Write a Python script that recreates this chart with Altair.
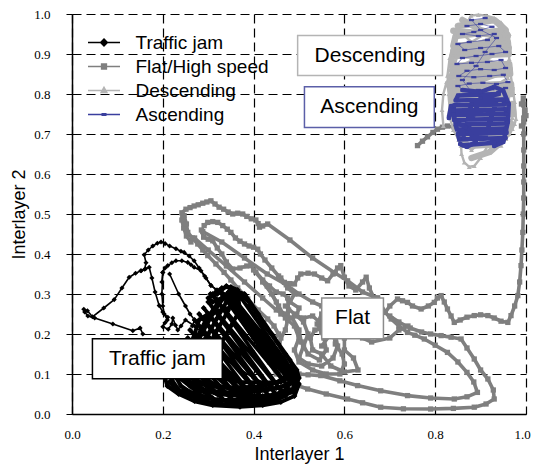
import altair as alt
import pandas as pd

# ---------------- data ----------------
SERIES = ["Traffic jam", "Flat/High speed", "Descending", "Ascending"]
COLORS = ["#000000", "#7f7f7f", "#b4b4b4", "#3a3f9e"]

# Traffic jam: thin arches / excursions
TJ_ARCHES = [
    [(0.156, 0.20), (0.150, 0.215), (0.134, 0.208), (0.09, 0.225), (0.05, 0.24), (0.035, 0.245),
     (0.028, 0.255), (0.026, 0.262), (0.034, 0.258), (0.045, 0.243), (0.07, 0.265), (0.093, 0.286),
     (0.11, 0.315), (0.126, 0.342), (0.14, 0.352), (0.152, 0.358), (0.160, 0.362), (0.163, 0.378),
     (0.159, 0.398), (0.168, 0.41), (0.178, 0.42), (0.188, 0.427), (0.196, 0.43), (0.205, 0.426),
     (0.215, 0.42), (0.229, 0.413), (0.24, 0.407), (0.247, 0.404), (0.258, 0.395), (0.269, 0.383),
     (0.28, 0.365), (0.292, 0.345), (0.306, 0.322), (0.318, 0.31), (0.33, 0.303)],
    [(0.152, 0.358), (0.162, 0.363), (0.17, 0.367), (0.176, 0.34), (0.183, 0.305), (0.192, 0.271),
     (0.2, 0.255), (0.211, 0.242), (0.205, 0.228), (0.2, 0.218), (0.212, 0.212), (0.22, 0.225),
     (0.222, 0.24), (0.228, 0.222), (0.233, 0.21), (0.24, 0.22), (0.25, 0.235), (0.27, 0.22),
     (0.29, 0.2), (0.32, 0.16), (0.36, 0.12), (0.4, 0.09), (0.44, 0.07)],
    [(0.198, 0.33), (0.2, 0.354), (0.205, 0.365), (0.211, 0.371), (0.22, 0.378), (0.229, 0.383),
     (0.242, 0.383), (0.255, 0.379), (0.262, 0.373), (0.269, 0.367), (0.284, 0.358), (0.295, 0.34),
     (0.306, 0.321), (0.32, 0.31), (0.34, 0.3), (0.36, 0.3), (0.39, 0.27), (0.42, 0.22),
     (0.45, 0.18), (0.48, 0.12)],
    [(0.2, 0.354), (0.198, 0.3), (0.2, 0.27), (0.203, 0.25), (0.21, 0.235)],
    [(0.215, 0.35), (0.235, 0.3), (0.25, 0.27), (0.26, 0.25), (0.27, 0.235), (0.265, 0.22)],
]

# Traffic jam: dense loops along the bottom
TJ_BLOB = [
    [(0.33, 0.303), (0.36, 0.27), (0.40, 0.215), (0.44, 0.155), (0.47, 0.11), (0.49, 0.08),
     (0.485, 0.055), (0.455, 0.04), (0.40, 0.03), (0.35, 0.03), (0.30, 0.04), (0.26, 0.055),
     (0.24, 0.07), (0.23, 0.09), (0.245, 0.12), (0.27, 0.165), (0.29, 0.21), (0.31, 0.25),
     (0.33, 0.285), (0.345, 0.305), (0.375, 0.26), (0.41, 0.21), (0.45, 0.15), (0.48, 0.105),
     (0.5, 0.075), (0.49, 0.045), (0.46, 0.03), (0.42, 0.022), (0.37, 0.018), (0.31, 0.022),
     (0.27, 0.032), (0.235, 0.05), (0.21, 0.07), (0.205, 0.09), (0.22, 0.105), (0.25, 0.14),
     (0.275, 0.19), (0.295, 0.235), (0.32, 0.275), (0.35, 0.31), (0.38, 0.3), (0.41, 0.25),
     (0.44, 0.2), (0.47, 0.15), (0.495, 0.11), (0.5, 0.09), (0.49, 0.065), (0.46, 0.05),
     (0.42, 0.045), (0.37, 0.045), (0.32, 0.05), (0.28, 0.065), (0.255, 0.085), (0.25, 0.11),
     (0.27, 0.15), (0.3, 0.2), (0.32, 0.24), (0.34, 0.28), (0.36, 0.31), (0.39, 0.28),
     (0.42, 0.23), (0.455, 0.175), (0.48, 0.135), (0.495, 0.1), (0.48, 0.075), (0.45, 0.065),
     (0.40, 0.06), (0.35, 0.062), (0.31, 0.075), (0.285, 0.095), (0.28, 0.125), (0.3, 0.17),
     (0.32, 0.21), (0.34, 0.25), (0.355, 0.28), (0.37, 0.24), (0.40, 0.19), (0.43, 0.145),
     (0.46, 0.11), (0.475, 0.09), (0.46, 0.08), (0.42, 0.078), (0.37, 0.08), (0.33, 0.09),
     (0.31, 0.11), (0.31, 0.14), (0.33, 0.18), (0.35, 0.22), (0.37, 0.26), (0.365, 0.3),
     (0.34, 0.32), (0.32, 0.3), (0.30, 0.29), (0.31, 0.28), (0.33, 0.29), (0.35, 0.3),
     (0.37, 0.29), (0.36, 0.27), (0.33, 0.26), (0.30, 0.25), (0.28, 0.235), (0.27, 0.2),
     (0.26, 0.17), (0.24, 0.13), (0.225, 0.105), (0.22, 0.085), (0.235, 0.06), (0.27, 0.045),
     (0.32, 0.035), (0.38, 0.035), (0.43, 0.04), (0.47, 0.06), (0.48, 0.085), (0.46, 0.12),
     (0.43, 0.16), (0.4, 0.2), (0.37, 0.25), (0.35, 0.28)],
    [(0.215, 0.08), (0.23, 0.06), (0.26, 0.045), (0.3, 0.03), (0.35, 0.022), (0.4, 0.024),
     (0.44, 0.03), (0.47, 0.045), (0.48, 0.06), (0.47, 0.07), (0.43, 0.06), (0.38, 0.052),
     (0.33, 0.055), (0.29, 0.06), (0.26, 0.07), (0.245, 0.09), (0.25, 0.1), (0.27, 0.085),
     (0.31, 0.068), (0.36, 0.066), (0.41, 0.068), (0.45, 0.078), (0.47, 0.095)],
]

# Traffic jam: diagonal streaks through the dense blob
TJ_STREAKS = [
    [(0.36, 0.31), (0.49, 0.1), (0.345, 0.305), (0.485, 0.085), (0.33, 0.3), (0.475, 0.07),
     (0.315, 0.29), (0.46, 0.06), (0.3, 0.28), (0.445, 0.055), (0.29, 0.265), (0.43, 0.05),
     (0.28, 0.25), (0.415, 0.045), (0.27, 0.235), (0.4, 0.04), (0.26, 0.21), (0.385, 0.04),
     (0.255, 0.19), (0.37, 0.038), (0.25, 0.165), (0.35, 0.04), (0.24, 0.14), (0.33, 0.04),
     (0.235, 0.12), (0.31, 0.04), (0.225, 0.1), (0.29, 0.042)],
    [(0.31, 0.3), (0.33, 0.315), (0.35, 0.318), (0.365, 0.31), (0.37, 0.295), (0.355, 0.285),
     (0.335, 0.29), (0.32, 0.285), (0.305, 0.3)],
]

FLAT = [
    [(0.761, 0.671), (0.772, 0.682), (0.783, 0.693), (0.795, 0.704), (0.805, 0.712), (0.816, 0.717),
     (0.827, 0.72), (0.842, 0.717), (0.855, 0.72)],
    [(0.262, 0.43), (0.252, 0.445), (0.246, 0.465), (0.242, 0.485), (0.242, 0.503), (0.251, 0.512),
     (0.26, 0.516), (0.269, 0.52), (0.278, 0.523), (0.288, 0.527), (0.297, 0.53), (0.306, 0.533),
     (0.315, 0.525), (0.324, 0.517), (0.334, 0.512), (0.344, 0.505), (0.354, 0.5), (0.365, 0.502),
     (0.376, 0.5), (0.385, 0.494), (0.395, 0.488), (0.405, 0.485), (0.41, 0.476), (0.413, 0.467),
     (0.42, 0.47), (0.431, 0.475), (0.48, 0.435), (0.53, 0.39), (0.58, 0.352), (0.607, 0.333),
     (0.64, 0.305), (0.673, 0.29), (0.69, 0.254), (0.7, 0.27), (0.717, 0.2875), (0.728, 0.283),
     (0.739, 0.279), (0.75, 0.27), (0.769, 0.2625), (0.785, 0.27), (0.798, 0.279), (0.805, 0.29),
     (0.813, 0.296), (0.82, 0.28), (0.827, 0.2625), (0.835, 0.245), (0.842, 0.229), (0.855, 0.235),
     (0.87, 0.242), (0.886, 0.246), (0.9, 0.248), (0.916, 0.246), (0.93, 0.24), (0.945, 0.232),
     (0.96, 0.229), (0.967, 0.246), (0.975, 0.27), (0.982, 0.296), (0.986, 0.33), (0.989, 0.371),
     (0.991, 0.41), (0.993, 0.454), (0.994, 0.5), (0.995, 0.54), (0.995, 0.58), (0.995, 0.62),
     (0.995, 0.66), (0.995, 0.7), (0.995, 0.74), (0.995, 0.775), (0.994, 0.79), (0.99, 0.775),
     (0.998, 0.76), (1.0, 0.746), (0.995, 0.73), (0.99, 0.72)],
    [(0.291, 0.471), (0.299, 0.479), (0.31, 0.481), (0.321, 0.479), (0.332, 0.471), (0.342, 0.462),
     (0.35, 0.454), (0.36, 0.44), (0.37, 0.432), (0.38, 0.425), (0.39, 0.42), (0.4, 0.417),
     (0.409, 0.412), (0.415, 0.40), (0.425, 0.385), (0.44, 0.365), (0.455, 0.345), (0.468, 0.329),
     (0.48, 0.326), (0.49, 0.325), (0.497, 0.34), (0.504, 0.35), (0.52, 0.352), (0.534, 0.35),
     (0.55, 0.34), (0.563, 0.333), (0.575, 0.35), (0.585, 0.365), (0.592, 0.371), (0.6, 0.342),
     (0.61, 0.32), (0.625, 0.31), (0.64, 0.33), (0.648, 0.342), (0.655, 0.315), (0.665, 0.29),
     (0.63, 0.26), (0.6, 0.23), (0.57, 0.2), (0.55, 0.17)],
    [(0.285, 0.46), (0.29, 0.442), (0.3, 0.437), (0.31, 0.433), (0.32, 0.415), (0.33, 0.4),
     (0.34, 0.38), (0.354, 0.3625), (0.37, 0.365), (0.385, 0.37), (0.394, 0.371), (0.405, 0.355),
     (0.42, 0.335), (0.435, 0.32), (0.45, 0.305), (0.465, 0.3), (0.475, 0.29), (0.477, 0.26),
     (0.475, 0.235), (0.47, 0.21), (0.46, 0.19), (0.455, 0.16), (0.465, 0.13), (0.48, 0.11),
     (0.5, 0.1), (0.52, 0.098), (0.548, 0.096), (0.59, 0.083), (0.629, 0.071), (0.68, 0.058),
     (0.739, 0.046), (0.79, 0.04), (0.842, 0.0375), (0.87, 0.043), (0.893, 0.054), (0.885, 0.08),
     (0.87, 0.104), (0.85, 0.13), (0.827, 0.154), (0.8, 0.172), (0.776, 0.1875), (0.755, 0.197),
     (0.739, 0.204), (0.72, 0.22), (0.703, 0.2375), (0.69, 0.254), (0.68, 0.27), (0.673, 0.29)],
    [(0.247, 0.496), (0.252, 0.475), (0.255, 0.454), (0.265, 0.44), (0.277, 0.425), (0.288, 0.41),
     (0.299, 0.396), (0.317, 0.375), (0.335, 0.354), (0.35, 0.335), (0.365, 0.315), (0.387, 0.2875),
     (0.41, 0.26), (0.431, 0.2375), (0.445, 0.22), (0.455, 0.2), (0.44, 0.18), (0.43, 0.16),
     (0.435, 0.13), (0.45, 0.1), (0.47, 0.085), (0.495, 0.072), (0.519, 0.0625), (0.56, 0.05),
     (0.607, 0.0375), (0.64, 0.028), (0.68, 0.017), (0.73, 0.013), (0.79, 0.0125), (0.84, 0.014),
     (0.886, 0.017), (0.912, 0.025), (0.93, 0.0375), (0.928, 0.06), (0.916, 0.0875), (0.9, 0.11),
     (0.886, 0.1375), (0.87, 0.165), (0.857, 0.1875), (0.835, 0.192), (0.813, 0.196), (0.79, 0.2),
     (0.77, 0.205), (0.745, 0.215), (0.72, 0.23), (0.7, 0.245)],
    [(0.47, 0.27), (0.49, 0.25), (0.51, 0.23), (0.52, 0.2), (0.51, 0.17), (0.5, 0.14),
     (0.52, 0.125), (0.55, 0.12), (0.575, 0.14), (0.585, 0.17), (0.58, 0.2), (0.56, 0.215),
     (0.535, 0.21), (0.525, 0.19), (0.53, 0.16), (0.55, 0.15), (0.57, 0.12), (0.6, 0.105),
     (0.63, 0.11), (0.62, 0.14), (0.6, 0.16), (0.6, 0.19), (0.62, 0.21), (0.64, 0.19),
     (0.66, 0.18), (0.7, 0.19), (0.72, 0.21), (0.74, 0.22)],
    [(0.288, 0.456), (0.33, 0.43), (0.38, 0.39), (0.43, 0.35), (0.472, 0.323), (0.5, 0.3),
     (0.53, 0.28), (0.55, 0.27)],
    [(0.27, 0.44), (0.3, 0.41), (0.34, 0.37), (0.38, 0.33), (0.42, 0.29), (0.45, 0.26), (0.47, 0.25)],
    [(0.42, 0.33), (0.44, 0.3), (0.455, 0.27), (0.47, 0.24), (0.49, 0.22), (0.5, 0.19),
     (0.49, 0.16), (0.5, 0.13), (0.53, 0.11), (0.56, 0.1), (0.59, 0.1), (0.6, 0.125),
     (0.595, 0.15), (0.58, 0.175), (0.575, 0.21), (0.59, 0.23), (0.61, 0.22), (0.63, 0.2),
     (0.65, 0.2)],
    [(0.4, 0.36), (0.43, 0.32), (0.45, 0.28), (0.46, 0.25), (0.485, 0.24), (0.5, 0.21),
     (0.505, 0.18), (0.52, 0.15), (0.545, 0.135), (0.56, 0.16), (0.555, 0.19), (0.54, 0.225),
     (0.55, 0.25), (0.57, 0.26), (0.6, 0.25), (0.62, 0.24)],
    [(0.46, 0.34), (0.475, 0.315), (0.49, 0.3), (0.48, 0.28), (0.5, 0.265), (0.495, 0.245),
     (0.51, 0.24), (0.53, 0.245), (0.545, 0.23), (0.55, 0.205)],
]

# Descending: outline, scribbles and dense filling strokes
DESC = [
    [(0.871, 0.979), (0.879, 0.996), (0.895, 0.998), (0.912, 0.996), (0.93, 0.99), (0.945, 0.979),
     (0.955, 0.965), (0.963, 0.95), (0.963, 0.92), (0.963, 0.8875), (0.966, 0.85), (0.97, 0.82),
     (0.975, 0.78), (0.978, 0.7375), (0.975, 0.725), (0.97, 0.7125), (0.963, 0.7), (0.956, 0.6875),
     (0.945, 0.671), (0.93, 0.668), (0.916, 0.671), (0.9, 0.64), (0.886, 0.62), (0.875, 0.618),
     (0.864, 0.629), (0.858, 0.65), (0.857, 0.671), (0.864, 0.696), (0.85, 0.72), (0.84, 0.745),
     (0.835, 0.7625), (0.83, 0.8), (0.827, 0.846), (0.832, 0.89), (0.842, 0.9375), (0.85, 0.9625),
     (0.86, 0.975), (0.871, 0.979)],
    [(0.85, 0.96), (0.88, 0.93), (0.91, 0.95), (0.94, 0.96), (0.95, 0.93), (0.92, 0.9),
     (0.88, 0.89), (0.85, 0.9), (0.84, 0.86), (0.87, 0.84), (0.91, 0.86), (0.95, 0.87),
     (0.96, 0.84), (0.93, 0.82), (0.89, 0.81), (0.85, 0.82), (0.84, 0.79), (0.86, 0.77),
     (0.9, 0.78), (0.94, 0.79), (0.965, 0.76), (0.95, 0.73), (0.91, 0.72), (0.87, 0.7),
     (0.86, 0.68), (0.88, 0.66), (0.9, 0.68), (0.93, 0.7), (0.96, 0.71), (0.97, 0.74)],
    [(0.818, 0.72), (0.815, 0.76), (0.818, 0.8), (0.825, 0.83), (0.833, 0.79), (0.83, 0.75),
     (0.84, 0.71), (0.852, 0.685)],
]
DESC_FILL = [
    [(0.85, 0.97), (0.93, 0.985), (0.955, 0.96), (0.845, 0.945), (0.84, 0.92), (0.96, 0.93),
     (0.962, 0.9), (0.838, 0.895), (0.836, 0.87), (0.963, 0.875), (0.965, 0.85), (0.835, 0.845),
     (0.833, 0.82), (0.967, 0.825), (0.968, 0.8), (0.834, 0.795), (0.836, 0.77), (0.97, 0.775),
     (0.972, 0.75), (0.84, 0.745), (0.85, 0.72), (0.968, 0.725), (0.96, 0.7), (0.86, 0.695),
     (0.87, 0.67), (0.94, 0.675), (0.92, 0.655), (0.88, 0.64)],
    [(0.86, 0.985), (0.9, 0.96), (0.945, 0.945), (0.9, 0.925), (0.85, 0.91), (0.905, 0.885),
     (0.955, 0.862), (0.9, 0.85), (0.845, 0.83), (0.905, 0.81), (0.958, 0.79), (0.9, 0.765)],
    [(0.84, 0.958), (0.96, 0.945), (0.84, 0.907), (0.962, 0.915), (0.837, 0.858), (0.964, 0.862),
     (0.835, 0.808), (0.968, 0.812), (0.838, 0.758), (0.97, 0.762)],
]

# Ascending: sparse upper part (small dash markers) and dense core
ASC_UPPER = [
    [(0.87, 0.97), (0.9, 0.975), (0.925, 0.968), (0.885, 0.955), (0.86, 0.95), (0.895, 0.945),
     (0.93, 0.95), (0.915, 0.935), (0.875, 0.93), (0.85, 0.925), (0.865, 0.91), (0.9, 0.915),
     (0.94, 0.92), (0.955, 0.905), (0.925, 0.9), (0.89, 0.895), (0.86, 0.89), (0.848, 0.875),
     (0.88, 0.878), (0.915, 0.88), (0.945, 0.885), (0.955, 0.865), (0.93, 0.86), (0.9, 0.862),
     (0.87, 0.858), (0.852, 0.845), (0.885, 0.842), (0.92, 0.845), (0.95, 0.848), (0.96, 0.83),
     (0.935, 0.825), (0.905, 0.828), (0.875, 0.826), (0.85, 0.82), (0.865, 0.808), (0.895, 0.81),
     (0.925, 0.812), (0.955, 0.815), (0.94, 0.805), (0.91, 0.8), (0.88, 0.805), (0.86, 0.835),
     (0.89, 0.87), (0.91, 0.905), (0.935, 0.94), (0.9, 0.96), (0.88, 0.985), (0.91, 0.99)],
]
ASC_CORE = [
    [(0.86, 0.672), (0.93, 0.678), (0.955, 0.69), (0.853, 0.686), (0.85, 0.7), (0.957, 0.703),
     (0.955, 0.714), (0.848, 0.711), (0.845, 0.724), (0.958, 0.726), (0.956, 0.738), (0.842, 0.735),
     (0.84, 0.748), (0.957, 0.75), (0.955, 0.762), (0.84, 0.759), (0.842, 0.772), (0.953, 0.774),
     (0.95, 0.786), (0.845, 0.784), (0.85, 0.796), (0.94, 0.8), (0.9, 0.79), (0.87, 0.705),
     (0.91, 0.69), (0.935, 0.785), (0.88, 0.775), (0.862, 0.69)],
    [(0.83, 0.74), (0.835, 0.77), (0.845, 0.73), (0.868, 0.716), (0.89, 0.68), (0.87, 0.668),
     (0.855, 0.675)],
    [(0.86, 0.81), (0.9, 0.805), (0.93, 0.818), (0.95, 0.808), (0.962, 0.775), (0.96, 0.73),
     (0.95, 0.68), (0.93, 0.67)],
]

BOX_LABELS = ["Traffic jam", "Flat", "Descending", "Ascending"]
BOX_X0 = [0.045, 0.550, 0.497, 0.512]
BOX_X1 = [0.331, 0.686, 0.816, 0.798]
BOX_Y0 = [0.088, 0.188, 0.846, 0.716]
BOX_Y1 = [0.188, 0.290, 0.946, 0.818]
BOX_STROKES = ["#000000", "#8c8c8c", "#b4b4b4", "#5b5fa8"]

X_TICKS = [0.0, 0.2, 0.4, 0.6, 0.8, 1.0]
Y_TICKS = [0.0, 0.1, 0.2, 0.3, 0.4, 0.5, 0.6, 0.7, 0.8, 0.9, 1.0]

# legend symbols: line + marker, custom paths
LEGEND_PATHS = [
    "M-2,0L2,0M0,-0.42L0.42,0L0,0.42L-0.42,0Z",
    "M-2,0L2,0M-0.3,-0.3L0.3,-0.3L0.3,0.3L-0.3,0.3Z",
    "M-2,0L2,0M0,-0.4L0.36,0.26L-0.36,0.26Z",
    "M-2,0L2,0M-0.22,-0.1L0.22,-0.1L0.22,0.1L-0.22,0.1Z",
]
DASH_MARK = "M-1,-0.45L1,-0.45L1,0.45L-1,0.45Z"


def seg_frame(segs):
    rows = []
    for s, seg in enumerate(segs):
        for i, (xv, yv) in enumerate(seg):
            rows.append({"x": xv, "y": yv, "seg": s, "i": i})
    return pd.DataFrame(rows)


xscale = alt.Scale(domain=[0, 1], nice=False, zero=False)
yscale = alt.Scale(domain=[0, 1], nice=False, zero=False)
grid_common = dict(grid=True, gridColor="black", gridDash=[9, 5], gridWidth=1.2,
                   domainColor="black", domainWidth=1.5, labelFlush=False,
                   labelFont="Liberation Serif", labelFontSize=13, labelColor="black",
                   titleFont="Liberation Sans", titleFontSize=18, titleFontWeight="normal",
                   titleColor="black", format=".1f")
xaxis = alt.Axis(values=X_TICKS, ticks=False, tickSize=0, labelPadding=14,
                 labelOffset={"condition": {"test": "datum.value >= 1", "value": -4},
                              "value": 0},
                 title="Interlayer 1", titleY=31, **grid_common)
yaxis = alt.Axis(values=Y_TICKS, ticks=True, tickSize=6, tickColor="black", tickWidth=1,
                 labelPadding=16, title="Interlayer 2", titleX=-44, **grid_common)

X = alt.X("x:Q", scale=xscale, axis=xaxis)
Y = alt.Y("y:Q", scale=yscale, axis=yaxis)


def traj(segs, color, width, shape, size):
    base = alt.Chart(seg_frame(segs))
    line = base.mark_line(color=color, strokeWidth=width, strokeJoin="round",
                          strokeCap="round").encode(
        x=X, y=Y, detail="seg:N", order="i:Q")
    pts = base.mark_point(shape=shape, filled=True, color=color, size=size,
                          opacity=1).encode(x=X, y=Y)
    return [line, pts]


layers = []
layers += traj(FLAT, COLORS[1], 3.6, "square", 28)
layers += traj(TJ_BLOB, COLORS[0], 4.0, "diamond", 34)
layers += traj(TJ_STREAKS, COLORS[0], 3.6, "diamond", 34)
layers += traj(TJ_ARCHES, COLORS[0], 1.6, "diamond", 26)
layers += traj(DESC, COLORS[2], 2.4, "triangle-up", 24)
layers += traj(DESC_FILL, COLORS[2], 6.5, "triangle-up", 24)
layers += traj(ASC_UPPER, COLORS[3], 0.6, DASH_MARK, 26)
layers += traj(ASC_CORE, COLORS[3], 4.5, "square", 14)

boxes = pd.DataFrame({"label": BOX_LABELS, "x0": BOX_X0, "x1": BOX_X1,
                      "y0": BOX_Y0, "y1": BOX_Y1, "stroke": BOX_STROKES})
boxes["xc"] = (boxes["x0"] + boxes["x1"]) / 2
boxes["yc"] = (boxes["y0"] + boxes["y1"]) / 2

rects = alt.Chart(boxes).mark_rect(fill="white", strokeWidth=1.5).encode(
    x=alt.X("x0:Q", scale=xscale, axis=xaxis), x2="x1",
    y=alt.Y("y0:Q", scale=yscale, axis=yaxis), y2="y1",
    stroke=alt.Stroke("stroke:N", scale=None))
texts = alt.Chart(boxes).mark_text(font="Liberation Sans", fontSize=21, color="black",
                                   baseline="middle", align="center").encode(
    x=alt.X("xc:Q", scale=xscale, axis=xaxis),
    y=alt.Y("yc:Q", scale=yscale, axis=yaxis), text="label:N")

leg_common = dict(orient="none", legendX=22.5, legendY=19, title=None,
                  labelFont="Liberation Sans", labelFontSize=19, labelColor="black",
                  symbolSize=256, symbolStrokeWidth=1.5, labelOffset=22, rowPadding=4,
                  padding=0)
legend_layer = alt.Chart(alt.Data(values=[{"series": s} for s in SERIES])).mark_point(
    filled=True, opacity=1, size=0).encode(
    fill=alt.Fill("series:N", scale=alt.Scale(domain=SERIES, range=COLORS),
                  legend=alt.Legend(**leg_common)),
    stroke=alt.Stroke("series:N", scale=alt.Scale(domain=SERIES, range=COLORS),
                      legend=alt.Legend(**leg_common)),
    shape=alt.Shape("series:N", scale=alt.Scale(domain=SERIES, range=LEGEND_PATHS),
                    legend=alt.Legend(**leg_common)),
    x=alt.value(-1000), y=alt.value(-1000),
)

chart = alt.layer(*layers, rects, texts, legend_layer).properties(
    width=454, height=400,
    autosize=alt.AutoSizeParams(type="none"),
    padding={"left": 64, "top": 6, "right": 5, "bottom": 50},
).configure_view(stroke=None)

chart.save("out.html", embed_options={"renderer": "svg", "actions": False})
